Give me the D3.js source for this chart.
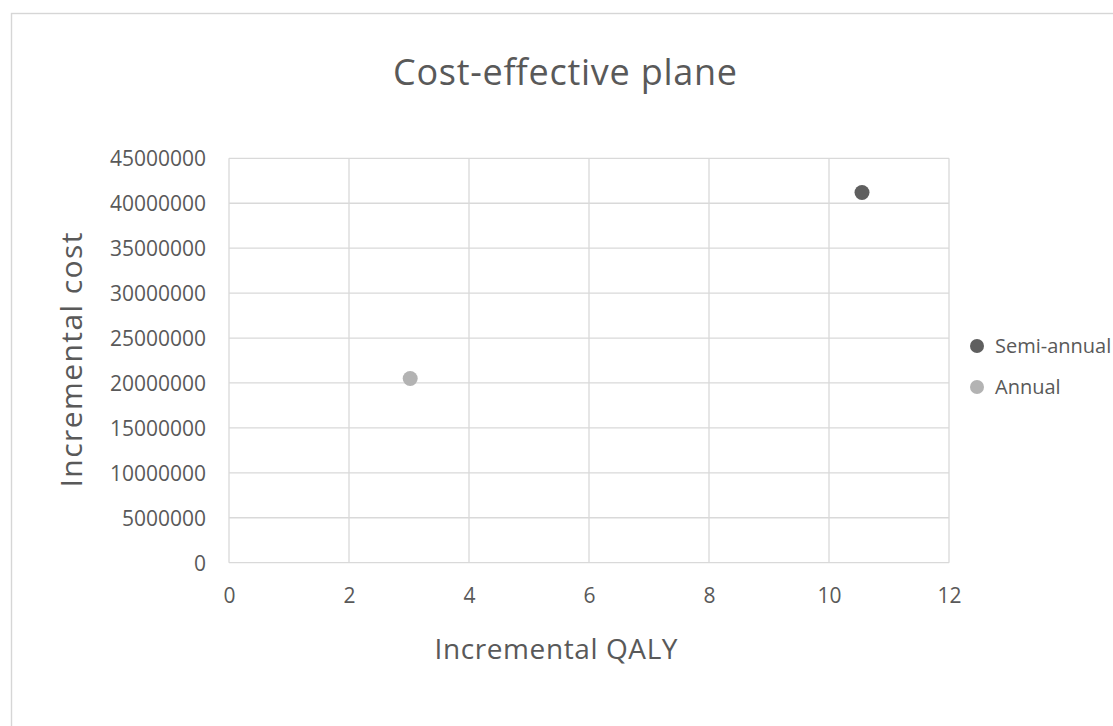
<!DOCTYPE html>
<html>
<head>
<meta charset="utf-8">
<script src="https://cdn.jsdelivr.net/npm/d3@7"></script>
<style>
  html, body { margin: 0; padding: 0; background: #ffffff; }
  svg { display: block; font-family: "Open Sans", "Noto Sans", sans-serif; }
</style>
</head>
<body>
<svg id="chart" width="1113" height="726"></svg>
<script>
// ---- data ----
const seriesNames = ["Semi-annual", "Annual"];
const seriesColors = ["#5f5f5f", "#b3b3b3"];
const qalyValues = [10.55, 3.02];
const costValues = [41200000, 20500000];
const xTicks = [0, 2, 4, 6, 8, 10, 12];
const yTicks = [0, 5000000, 10000000, 15000000, 20000000, 25000000, 30000000, 35000000, 40000000, 45000000];
const titleText = "Cost-effective plane";
const xTitle = "Incremental QALY";
const yTitle = "Incremental cost";

const svg = d3.select("#chart");
const textColor = "#595959";
const gridColor = "#d9d9d9";

// chart border
svg.append("rect")
  .attr("x", 11.5).attr("y", 13.5)
  .attr("width", 1130).attr("height", 760)
  .attr("fill", "none").attr("stroke", "#d6d6d6").attr("stroke-width", 1.4);

const plot = { left: 229, right: 949, top: 158.3, bottom: 562.7 };

const x = d3.scaleLinear().domain([0, 12]).range([plot.left, plot.right]);
const y = d3.scaleLinear().domain([0, 45000000]).range([plot.bottom, plot.top]);

// gridlines
const g = svg.append("g");
g.selectAll("line.v").data(xTicks).enter().append("line")
  .attr("x1", d => x(d)).attr("x2", d => x(d))
  .attr("y1", plot.top).attr("y2", plot.bottom)
  .attr("stroke", gridColor).attr("stroke-width", 1.3);
g.selectAll("line.h").data(yTicks).enter().append("line")
  .attr("x1", plot.left).attr("x2", plot.right)
  .attr("y1", d => y(d)).attr("y2", d => y(d))
  .attr("stroke", gridColor).attr("stroke-width", 1.3);

// axes (labels only)
const xAxis = d3.axisBottom(x).tickValues(xTicks).tickSize(0).tickPadding(0).tickFormat(d3.format("d"));
const xg = svg.append("g").attr("transform", `translate(0, ${plot.bottom})`).call(xAxis);
xg.select(".domain").remove();
xg.selectAll("text").attr("y", 40).attr("dy", 0)
  .attr("font-size", 21).attr("fill", textColor).attr("font-family", "Open Sans");

const yAxis = d3.axisLeft(y).tickValues(yTicks).tickSize(0).tickPadding(0).tickFormat(d3.format("d"));
const yg = svg.append("g").attr("transform", `translate(${plot.left}, 0)`).call(yAxis);
yg.select(".domain").remove();
yg.selectAll("text").attr("x", -23).attr("dy", "0.35em")
  .attr("font-size", 21).attr("fill", textColor).attr("font-family", "Open Sans");

// points
svg.append("g").selectAll("circle").data(seriesNames).enter().append("circle")
  .attr("cx", (d, i) => x(qalyValues[i]))
  .attr("cy", (d, i) => y(costValues[i]))
  .attr("r", 7.5)
  .attr("fill", (d, i) => seriesColors[i]);

// title
svg.append("text").attr("x", 565).attr("y", 85)
  .attr("text-anchor", "middle").attr("font-size", 36).attr("fill", textColor)
  .attr("textLength", 344).attr("lengthAdjust", "spacing")
  .text(titleText);

// x axis title
svg.append("text").attr("x", 556).attr("y", 659)
  .attr("text-anchor", "middle").attr("font-size", 28).attr("fill", textColor)
  .attr("textLength", 243).attr("lengthAdjust", "spacing")
  .text(xTitle);

// y axis title
svg.append("text")
  .attr("transform", "translate(82, 360) rotate(-90)")
  .attr("text-anchor", "middle").attr("font-size", 30).attr("fill", textColor)
  .attr("textLength", 255).attr("lengthAdjust", "spacing")
  .text(yTitle);

// legend
const lg = svg.append("g").selectAll("g").data(seriesNames).enter().append("g")
  .attr("transform", (d, i) => `translate(977, ${346 + i * 41})`);
lg.append("circle").attr("r", 7).attr("fill", (d, i) => seriesColors[i]);
lg.append("text").attr("x", 18).attr("y", 7)
  .attr("font-size", 20).attr("fill", textColor)
  .text(d => d);
</script>
</body>
</html>
